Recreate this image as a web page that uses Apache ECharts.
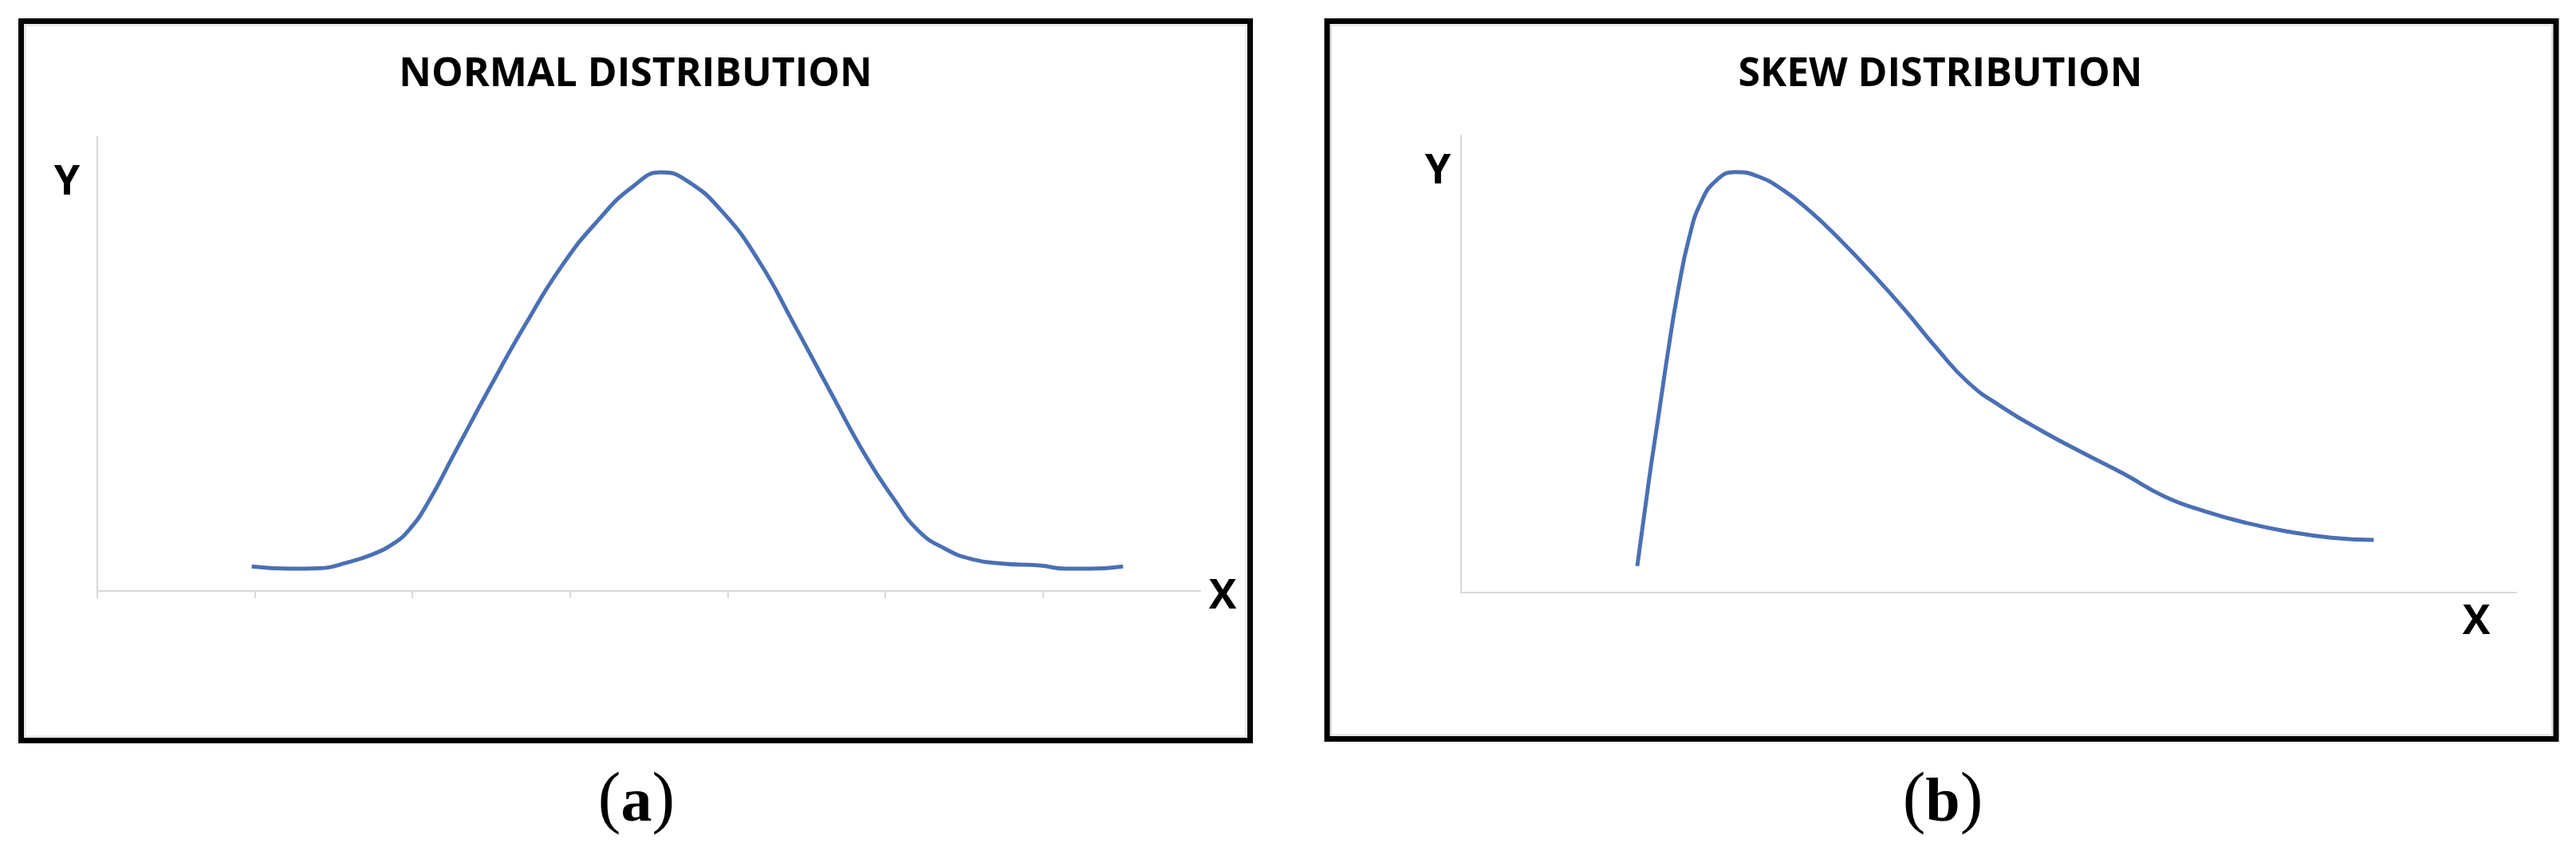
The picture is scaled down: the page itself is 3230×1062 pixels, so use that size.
<!DOCTYPE html>
<html>
<head>
<meta charset="utf-8">
<title>Normal vs skew distribution</title>
<script src="https://cdn.jsdelivr.net/npm/echarts@6.0.0/dist/echarts.min.js"></script>
<style>
  html, body { margin: 0; padding: 0; background: #fff; }
  #chart { width: 3230px; height: 1062px; }
</style>
</head>
<body>
<div id="chart"></div>
<script>
// (a) normal distribution
const normalX = [0.98, 1.23, 1.41, 1.59, 1.75, 1.87, 1.98, 2.10, 2.27, 2.50, 2.72, 2.95, 3.18, 3.40, 3.58,
  3.74, 3.97, 4.20, 4.42, 4.65, 4.88, 5.05, 5.21, 5.38, 5.55, 5.75, 5.98, 6.15, 6.30, 6.51];
const normalY = [5.4, 4.9, 5.0, 6.3, 8.1, 10.2, 13.5, 19.5, 30.5, 45.3, 58.8, 71.6, 81.6, 89.0, 92.1,
  90.3, 83.3, 72.5, 58.8, 44.0, 29.5, 20.5, 13.3, 9.3, 7.0, 6.0, 5.6, 4.9, 4.9, 5.4];

// (b) skew distribution
const skewX = [16.7, 17.8, 18.8, 19.7, 20.6, 21.6, 22.7, 24.2, 26.0, 28.1, 30.5, 33.1, 35.8, 38.9, 42.0, 45.1, 48.1, 51.2,
  55.1, 59.0, 62.8, 66.7, 70.5, 74.5, 78.5, 82.5, 86.5];
const skewY = [5.8, 24.5, 40.0, 54.0, 66.5, 77.5, 85.2, 90.2, 92.0, 91.1, 88.1, 83.4, 77.5, 70.0, 62.0, 53.4, 45.9, 40.7,
  35.3, 30.5, 26.0, 21.0, 17.8, 15.2, 13.3, 12.0, 11.5];

const normalTicks = [0, 1, 2, 3, 4, 5, 6];
const titles = ["NORMAL DISTRIBUTION", "SKEW DISTRIBUTION"];
const panelLabels = ["a", "b"];

const lineColor = "#4a70b4";
const axisGray = "#d9d9d9";

const myChart = echarts.init(document.getElementById("chart"));

function pairs(xs, ys) {
  return xs.map((x, i) => [x, ys[i]]);
}

function boldText(str, x, y, size) {
  return {
    type: "text",
    x: x,
    y: y,
    style: {
      text: str,
      fontFamily: "Open Sans",
      fontWeight: "bold",
      fontSize: size,
      fill: "#000",
      align: "center",
      verticalAlign: "middle",
    },
  };
}

function panelLabel(letter, x) {
  return {
    type: "text",
    x: x,
    y: 1005,
    style: {
      text: "{p|(}{b|" + letter + "}{p|)}",
      align: "center",
      verticalAlign: "middle",
      rich: {
        p: { fontFamily: "Liberation Serif", fontSize: 86, fill: "#000", verticalAlign: "bottom" },
        b: { fontFamily: "Liberation Serif", fontSize: 78, fontWeight: "bold", fill: "#000", verticalAlign: "bottom" },
      },
    },
  };
}

function frame(x, w, h) {
  return [
    {
      type: "rect",
      shape: { x: x, y: 26.5, width: w, height: h },
      style: { fill: "none", stroke: "#000", lineWidth: 7 },
    },
    {
      type: "rect",
      shape: { x: x + 5, y: 31.5, width: w - 10, height: h - 10 },
      style: { fill: "none", stroke: "#e0e0e0", lineWidth: 2 },
    },
  ];
}

const hiddenValueAxis = {
  type: "value",
  axisLabel: { show: false },
  splitLine: { show: false },
  axisLine: { show: true, onZero: false, lineStyle: { color: axisGray, width: 2 } },
};

const option = {
  backgroundColor: "#fff",
  animation: false,
  grid: [
    { left: 122, top: 171, width: 1383, height: 570 },
    { left: 1832, top: 170, width: 1323, height: 573 },
  ],
  xAxis: [
    Object.assign({}, hiddenValueAxis, {
      gridIndex: 0,
      min: 0,
      max: 7,
      interval: 1,
      axisTick: {
        show: true,
        length: 9,
        customValues: normalTicks,
        lineStyle: { color: axisGray, width: 2 },
      },
    }),
    Object.assign({}, hiddenValueAxis, {
      gridIndex: 1,
      min: 0,
      max: 100,
      axisTick: { show: false },
    }),
  ],
  yAxis: [
    Object.assign({}, hiddenValueAxis, { gridIndex: 0, min: 0, max: 100, axisTick: { show: false } }),
    Object.assign({}, hiddenValueAxis, { gridIndex: 1, min: 0, max: 100, axisTick: { show: false } }),
  ],
  series: [
    {
      type: "line",
      xAxisIndex: 0,
      yAxisIndex: 0,
      smooth: 0.5,
      showSymbol: false,
      lineStyle: { color: lineColor, width: 5 },
      data: pairs(normalX, normalY),
    },
    {
      type: "line",
      xAxisIndex: 1,
      yAxisIndex: 1,
      smooth: 0.5,
      showSymbol: false,
      lineStyle: { color: lineColor, width: 5 },
      data: pairs(skewX, skewY),
    },
  ],
  graphic: [].concat(
    frame(26.5, 1541, 902),
    frame(1664, 1541, 900),
    [
      boldText(titles[0], 797, 94, 50),
      boldText(titles[1], 2433, 94, 50),
      boldText("Y", 84, 229, 52),
      boldText("X", 1533, 748, 52),
      boldText("Y", 1803, 215, 52),
      boldText("X", 3105, 780, 52),
      panelLabel(panelLabels[0], 798),
      panelLabel(panelLabels[1], 2436),
    ]
  ),
};

// 绘制图表
myChart.setOption(option);
</script>
</body>
</html>
